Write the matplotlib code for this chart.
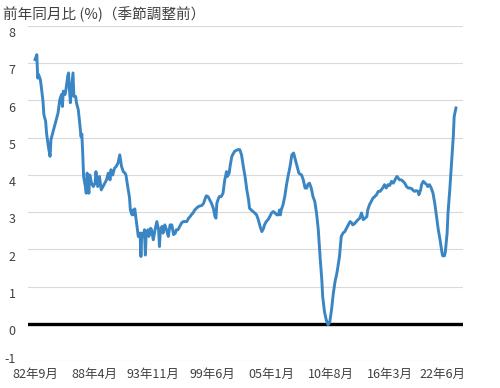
import matplotlib
matplotlib.use("Agg")
import matplotlib.pyplot as plt
from matplotlib.transforms import ScaledTranslation

# 1982年9月からの経過月数と前年同月比 (%)
months = [0, 2, 3, 4, 6, 7, 9, 10, 12, 13,
          15, 17, 18, 20, 22, 24, 26, 28, 30, 31,
          32, 34, 35, 37, 38, 39, 40, 42, 43, 44,
          46, 47, 49, 51, 52, 53, 54, 55, 57, 58,
          59, 61, 62, 64, 66, 68, 69, 71, 73, 75,
          77, 79, 81, 83, 85, 86, 88, 90, 92, 94,
          96, 98, 100, 102, 103, 105, 107, 108, 110, 111,
          112, 113, 114, 116, 117, 119, 120, 121, 123, 124,
          125, 126, 128, 129, 131, 132, 134, 136, 138, 140,
          141, 142, 144, 145, 147, 149, 151, 153, 155, 157,
          159, 160, 162, 164, 166, 168, 170, 172, 174, 176,
          177, 179, 181, 183, 185, 187, 189, 191, 193, 194,
          196, 198, 200, 202, 204, 205, 206, 208, 209, 211,
          213, 215, 217, 218, 220, 221, 223, 225, 226, 228,
          230, 232, 234, 236, 238, 240, 242, 243, 245, 247,
          249, 251, 253, 255, 257, 259, 260, 262, 264, 266,
          268, 270, 272, 274, 276, 277, 278, 279, 281, 283,
          285, 287, 289, 291, 293, 294, 296, 299, 302, 304,
          306, 308, 309, 311, 313, 315, 317, 319, 321, 323,
          325, 326, 328, 330, 332, 334, 336, 338, 340, 342,
          343, 345, 347, 349, 351, 353, 355, 357, 359, 360,
          362, 364, 366, 368, 370, 372, 374, 376, 377, 379,
          381, 383, 385, 387, 389, 391, 394, 396, 398, 400,
          402, 404, 406, 408, 410, 411, 413, 415, 417, 419,
          421, 423, 425, 427, 428, 430, 432, 434, 435, 437,
          438, 440, 442, 444, 445, 447, 449, 451, 453, 455,
          457, 459, 461, 462, 464, 465, 467, 468, 470, 472,
          474, 475, 477]

values = [7.1, 7.23, 6.6, 6.7, 6.56, 6.38, 5.98, 5.62, 5.44, 5.13,
          4.77, 4.5, 4.95, 5.13, 5.3, 5.48, 5.66, 6.02, 6.16, 5.84,
          6.25, 6.16, 6.29, 6.65, 6.74, 6.29, 5.94, 6.47, 6.74, 6.11,
          6.11, 5.93, 5.75, 5.3, 5.03, 5.1, 4.59, 3.96, 3.69, 3.51,
          4.05, 3.51, 4.0, 3.78, 3.69, 3.78, 4.09, 3.69, 3.96, 3.6,
          3.69, 3.78, 3.87, 4.05, 3.87, 4.14, 4.0, 4.18, 4.23, 4.32,
          4.54, 4.23, 4.09, 4.05, 4.0, 3.69, 3.4, 3.06, 2.93, 3.06,
          2.93, 3.09, 2.9, 2.53, 2.35, 2.44, 1.81, 2.44, 2.35, 2.53,
          1.85, 2.44, 2.53, 2.35, 2.57, 2.53, 2.26, 2.53, 2.75, 2.53,
          2.08, 2.53, 2.62, 2.44, 2.66, 2.53, 2.35, 2.66, 2.66, 2.4,
          2.44, 2.53, 2.53, 2.62, 2.71, 2.75, 2.75, 2.75, 2.84, 2.89,
          2.93, 2.98, 3.06, 3.11, 3.15, 3.17, 3.18, 3.24, 3.38, 3.44,
          3.42, 3.33, 3.24, 3.11, 2.88, 2.84, 3.24, 3.38, 3.42, 3.42,
          3.51, 3.87, 4.09, 3.96, 4.05, 4.23, 4.5, 4.59, 4.63, 4.66,
          4.68, 4.68, 4.54, 4.23, 3.96, 3.6, 3.33, 3.11, 3.06, 3.02,
          2.98, 2.93, 2.8, 2.62, 2.48, 2.57, 2.66, 2.75, 2.8, 2.88,
          2.98, 3.02, 2.98, 2.93, 2.93, 3.06, 2.93, 3.06, 3.2, 3.42,
          3.74, 4.0, 4.23, 4.54, 4.59, 4.5, 4.32, 4.05, 4.0, 3.87,
          3.65, 3.65, 3.74, 3.78, 3.65, 3.42, 3.29, 2.98, 2.53, 1.81,
          1.18, 0.73, 0.33, 0.11, -0.02, 0.05, 0.38, 0.82, 1.14, 1.36,
          1.5, 1.81, 2.35, 2.44, 2.48, 2.57, 2.66, 2.75, 2.71, 2.66,
          2.69, 2.75, 2.8, 2.84, 2.98, 2.8, 2.84, 2.88, 3.06, 3.2,
          3.29, 3.38, 3.42, 3.47, 3.56, 3.56, 3.65, 3.74, 3.65, 3.74,
          3.72, 3.83, 3.78, 3.87, 3.96, 3.94, 3.87, 3.87, 3.83, 3.78,
          3.69, 3.65, 3.65, 3.63, 3.6, 3.56, 3.58, 3.56, 3.47, 3.6,
          3.74, 3.83, 3.78, 3.74, 3.69, 3.74, 3.65, 3.51, 3.24, 2.88,
          2.53, 2.26, 1.94, 1.83, 1.83, 1.94, 2.44, 2.98, 3.6, 4.32,
          5.03, 5.57, 5.8]

tick_months = [0, 67, 134, 201, 268, 335, 402, 477]
tick_labels = ["82年9月", "88年4月", "93年11月", "99年6月",
               "05年1月", "10年8月", "16年3月", "22年6月"]
y_ticks = list(range(-1, 9))

assert len(months) == len(values)

tick_font = ["Noto Sans CJK JP", "DejaVu Sans"]

fig = plt.figure(figsize=(5, 3.88), dpi=100)
ax = fig.add_axes([0.056, 0.069, 0.87, 0.864])

# grille horizontale
for y in y_ticks:
    ax.axhline(y, color="#d9d9d9", lw=0.8, zorder=1)
ax.axhline(0, color="black", lw=2.4, zorder=2)

ax.plot(months, values, color="#3a86c4", lw=2.1, zorder=3,
        solid_joinstyle="round")

ax.set_xlim(-8, 485)
ax.set_ylim(-1, 8)
ax.set_yticks(y_ticks)
ax.set_yticklabels([str(y) for y in y_ticks], family=tick_font,
                   fontsize=9, color="#404040")
ax.set_xticks(tick_months)
ax.set_xticklabels(tick_labels, family=tick_font, fontsize=9,
                   color="#404040")
ax.tick_params(axis="both", length=0)
ax.tick_params(axis="y", pad=9)
ax.tick_params(axis="x", pad=5)
for s in ax.spines.values():
    s.set_visible(False)

# les étiquettes Y sont un peu sous la grille (sauf -1)
for lab in ax.get_yticklabels():
    dy = 2.0 if lab.get_text() == "-1" else -4.5
    lab.set_transform(lab.get_transform() +
                      ScaledTranslation(0, dy / 72, fig.dpi_scale_trans))
last = ax.get_xticklabels()[-1]
last.set_transform(last.get_transform() +
                   ScaledTranslation(-10 / 72, 0, fig.dpi_scale_trans))

fig.text(0.006, 0.963, "前年同月比 (%)（季節調整前）",
         family=["Noto Sans CJK JP", "DejaVu Sans"], fontsize=10.5,
         color="#404040", va="center", ha="left")

fig.savefig("out.png", dpi=100)
